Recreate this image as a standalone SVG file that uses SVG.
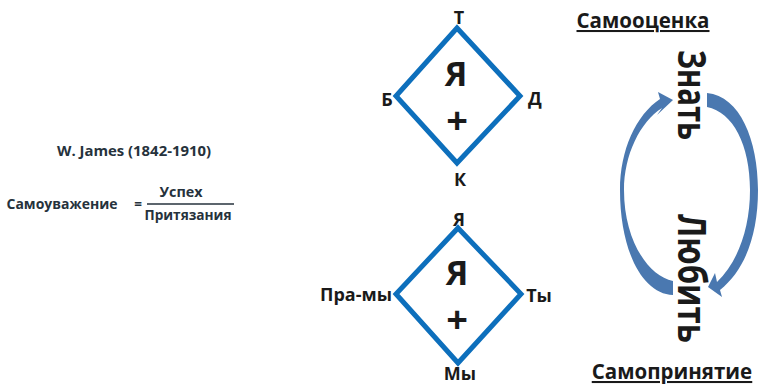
<svg xmlns="http://www.w3.org/2000/svg" width="758" height="384" viewBox="0 0 758 384">
<style>
text{font-family:"Open Sans","Liberation Sans",sans-serif;fill:#1a1a1a;font-weight:700;text-anchor:middle}
.d{fill:none;stroke:#0d6fbc;stroke-width:5;stroke-linejoin:miter}
.s{font-size:13.5px;fill:#26323c}
.m{font-size:18px}
.b{font-size:34px}
.p{font-size:38px}
.h{font-size:20.5px;text-decoration:underline}
.r{font-size:40px;font-weight:700;text-anchor:start}
.a{fill:#4a78b0}
</style>
<rect width="758" height="384" fill="#fff"/>
<g id="formula">
<text class="s" x="134" y="156" textLength="154" lengthAdjust="spacingAndGlyphs">W. James (1842-1910)</text>
<text class="s" x="62" y="209" textLength="111" lengthAdjust="spacingAndGlyphs">Самоуважение</text>
<text class="s" x="138" y="209">=</text>
<text class="s" x="181" y="197" textLength="43" lengthAdjust="spacingAndGlyphs">Успех</text>
<text class="s" x="188" y="220" textLength="87" lengthAdjust="spacingAndGlyphs">Притязания</text>
<line x1="147" y1="204" x2="234" y2="204" stroke="#26323c" stroke-width="1.5"/>
</g>
<g id="diamond-1">
<polygon class="d" points="457,28 520,96 457,163 396,96"/>
<text class="b" x="456" y="86">Я</text>
<text class="p" x="457" y="134">+</text>
<text class="m" x="459" y="24">Т</text>
<text class="m" x="387" y="106">Б</text>
<text class="m" x="535" y="105">Д</text>
<text class="m" x="460" y="186">К</text>
</g>
<g id="diamond-2">
<polygon class="d" points="458,228 521,294 458,363 396,294"/>
<text class="b" x="457" y="285">Я</text>
<text class="p" x="457" y="333">+</text>
<text class="m" x="459" y="226">Я</text>
<text class="m" x="356" y="301">Пра-мы</text>
<text class="m" x="539" y="302">Ты</text>
<text class="m" x="460" y="380">Мы</text>
</g>
<g id="samoocenka"><text class="h" x="643" y="28">Самооценка</text></g>
<g id="samoprinyatie"><text class="h" x="672" y="379">Самопринятие</text></g>
<g id="znat"><text class="r" transform="translate(678,50) rotate(90)" textLength="90" lengthAdjust="spacingAndGlyphs">Знать</text></g>
<g id="lyubit"><text class="r" transform="translate(678,214) rotate(90)" textLength="129" lengthAdjust="spacingAndGlyphs">Любить</text></g>
<g id="connectors">
<path class="a" d="M673,100 L658,92 L660,99 C636,115 620,150 620,190 C620,250 642,294 673,295 L673,281 C648,276 624,240 624,190 C624,155 640,122 662,108 L657,115 Z"/>
<path class="a" d="M708,287 L722,297 L720,290 C745,270 758,235 758,190 C758,140 740,96 707,93 L707,107 C733,112 750,145 750,190 C750,228 738,262 717,282 L715,273 Z"/>
</g>
</svg>
